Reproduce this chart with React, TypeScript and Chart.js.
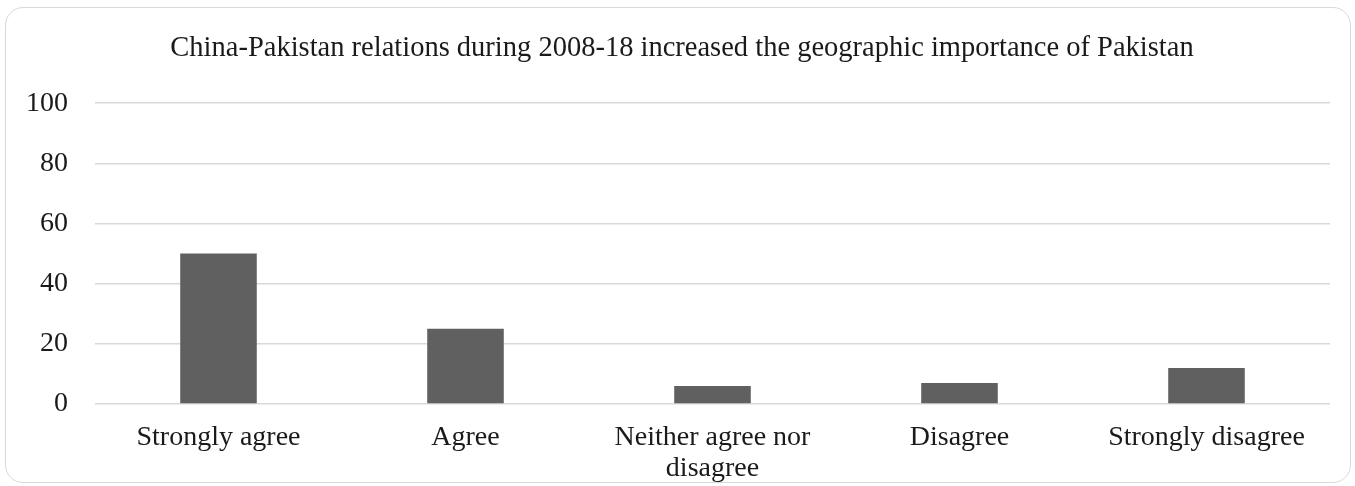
import React, { useEffect, useRef } from "react";
import { Chart, registerables } from "chart.js";

Chart.register(...registerables);

const titleText = "China-Pakistan relations during 2008-18 increased the geographic importance of Pakistan";
const categories: (string | string[])[] = [
  "Strongly agree",
  "Agree",
  ["Neither agree nor", "disagree"],
  "Disagree",
  "Strongly disagree",
];
const values = [50, 25, 6, 7, 12];
const yMin = 0;
const yMax = 100;
const yStep = 20;

const titleShift = {
  id: "titleShift",
  afterLayout(chart: any) {
    const t = chart.titleBlock;
    if (t) {
      t.left = 34;
      t.right = 1330;
    }
  },
};

export default function App() {
  const ref = useRef<HTMLCanvasElement>(null);
  useEffect(() => {
    if (!ref.current) return;
    const font = "'Liberation Serif', serif";
    const chart = new Chart(ref.current, {
      type: "bar",
      data: {
        labels: categories,
        datasets: [
          {
            data: values,
            backgroundColor: "#606060",
            borderWidth: 0,
            categoryPercentage: 1,
            barPercentage: 0.31,
          },
        ],
      },
      plugins: [titleShift],
      options: {
        animation: false,
        responsive: false,
        maintainAspectRatio: false,
        layout: { padding: { left: 0, right: 25, top: 10, bottom: 0 } },
        plugins: {
          legend: { display: false },
          tooltip: { enabled: false },
          title: {
            display: true,
            text: titleText,
            color: "#1a1a1a",
            font: { family: font, size: 28.5, weight: "normal", lineHeight: 1.2 },
            padding: { top: 21, bottom: 38 },
          },
        },
        scales: {
          x: {
            grid: { display: false },
            border: { display: false },
            afterFit: (scale: any) => {
              scale.height = 82;
            },
            ticks: {
              color: "#1a1a1a",
              font: { family: font, size: 28, lineHeight: 1.1 },
              padding: 10,
              maxRotation: 0,
              autoSkip: false,
            },
          },
          y: {
            min: yMin,
            max: yMax,
            grid: { color: "#d9d9d9", lineWidth: 1.5, drawTicks: false },
            border: { display: false },
            afterFit: (scale: any) => {
              scale.width = 95;
            },
            ticks: {
              stepSize: yStep,
              color: "#1a1a1a",
              font: { family: font, size: 28 },
              padding: 27,
            },
          },
        },
      },
    });
    return () => chart.destroy();
  }, []);
  return (
    <div style={{ position: "fixed", left: 0, top: 0, width: 1355, height: 486, background: "#fff" }}>
      <div
        style={{
          position: "absolute",
          left: 5,
          top: 7,
          width: 1346,
          height: 476,
          border: "1.5px solid #d9d9d9",
          borderRadius: 18,
          boxSizing: "border-box",
          pointerEvents: "none",
        }}
      />
      <canvas ref={ref} width={1355} height={486} style={{ position: "absolute", left: 0, top: 0 }} />
    </div>
  );
}
